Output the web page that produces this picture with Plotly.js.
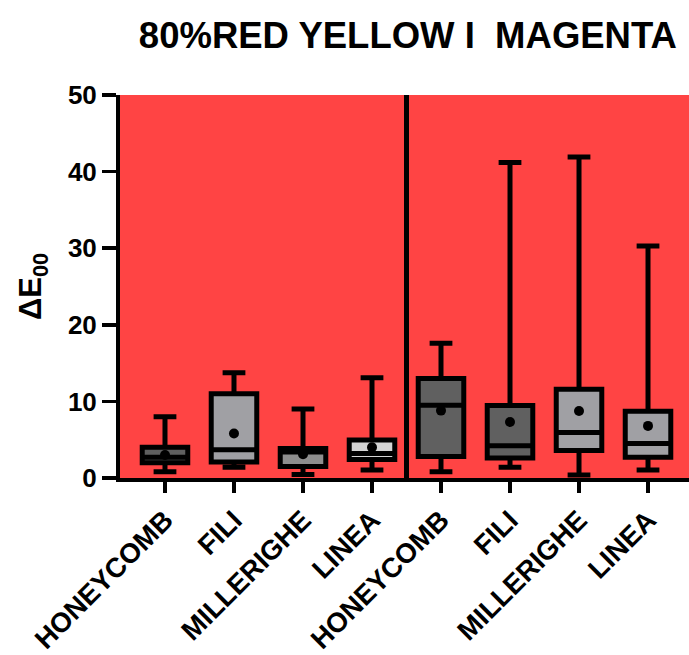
<!DOCTYPE html>
<html>
<head>
<meta charset="utf-8">
<script src="https://cdn.plot.ly/plotly-3.0.1.min.js"></script>
<style>html,body{margin:0;padding:0;background:#fff;}#chart{width:689px;height:655px;}</style>
</head>
<body>
<div id="chart"></div>
<script>
// ---- data ----
const categories = ["HONEYCOMB", "FILI", "MILLERIGHE", "LINEA", "HONEYCOMB", "FILI", "MILLERIGHE", "LINEA"];
const lowerWhisker = [0.8, 1.4, 0.45, 1.05, 0.8, 1.4, 0.4, 1.05];
const q1Values     = [2.0, 2.1, 1.5, 2.4, 2.8, 2.6, 3.6, 2.7];
const medianValues = [2.7, 3.7, 3.4, 3.2, 9.5, 4.2, 5.95, 4.5];
const q3Values     = [4.0, 11.0, 3.85, 4.95, 13.0, 9.45, 11.6, 8.7];
const upperWhisker = [8.0, 13.75, 9.0, 13.1, 17.6, 41.2, 41.9, 30.3];
const meanValues   = [3.0, 5.8, 3.1, 4.0, 8.8, 7.3, 8.75, 6.8];
const boxFills     = ["#5f5f5f", "#a0a0a4", "#8e8e8e", "#d4d4d4", "#606060", "#606060", "#a0a0a4", "#a0a0a4"];
const yTicks = [0, 10, 20, 30, 40, 50];

const positions = categories.map((_, i) => i);
const traces = [];
positions.forEach(i => {
  traces.push({
    type: "box",
    x: [i],
    lowerfence: [lowerWhisker[i]],
    q1: [q1Values[i]],
    median: [medianValues[i]],
    q3: [q3Values[i]],
    upperfence: [upperWhisker[i]],
    width: 0.66,
    whiskerwidth: 0.5,
    fillcolor: boxFills[i],
    line: {color: "#000", width: 5},
    boxpoints: false,
    hoverinfo: "skip",
    showlegend: false
  });
});
traces.push({
  type: "scatter",
  mode: "markers",
  x: positions,
  y: meanValues,
  marker: {color: "#000", size: 10},
  hoverinfo: "skip",
  showlegend: false
});

const fontFam = "Liberation Sans, Arial, sans-serif";
const layout = {
  width: 689,
  height: 655,
  margin: {l: 120, r: 0, t: 95, b: 177},
  paper_bgcolor: "#ffffff",
  plot_bgcolor: "#ff4444",
  title: {
    text: "<b>80%RED YELLOW I  MAGENTA</b>",
    font: {family: fontFam, size: 36.5, color: "#000"},
    x: 0.592, xanchor: "center",
    y: 0.946, yanchor: "middle"
  },
  xaxis: {
    range: [-0.652, 7.594],
    tickvals: positions,
    ticktext: categories.map(c => "<b>" + c + "</b>"),
    tickangle: -45,
    tickfont: {family: fontFam, size: 27.5, color: "#000"},
    ticks: "outside", ticklen: 11, tickwidth: 3.5, tickcolor: "#000",
    showline: true, linecolor: "#000", linewidth: 4,
    showgrid: false, zeroline: false, fixedrange: true
  },
  yaxis: {
    range: [0, 50],
    tickvals: yTicks,
    ticktext: yTicks.map(v => "<b>" + v + "</b>"),
    tickfont: {family: fontFam, size: 26, color: "#000"},
    ticks: "outside", ticklen: 14, tickwidth: 3.5, tickcolor: "#000",
    showline: true, linecolor: "#000", linewidth: 4,
    showgrid: false, zeroline: false, fixedrange: true,
    title: {text: "<b>ΔE<sub>00</sub></b>", font: {family: fontFam, size: 31, color: "#000"}, standoff: 18}
  },
  shapes: [{
    type: "line", xref: "x", yref: "y",
    x0: 3.5, x1: 3.5, y0: 0, y1: 50,
    line: {color: "#000", width: 5}
  }]
};

Plotly.newPlot("chart", traces, layout, {displayModeBar: false, staticPlot: true});
</script>
</body>
</html>
